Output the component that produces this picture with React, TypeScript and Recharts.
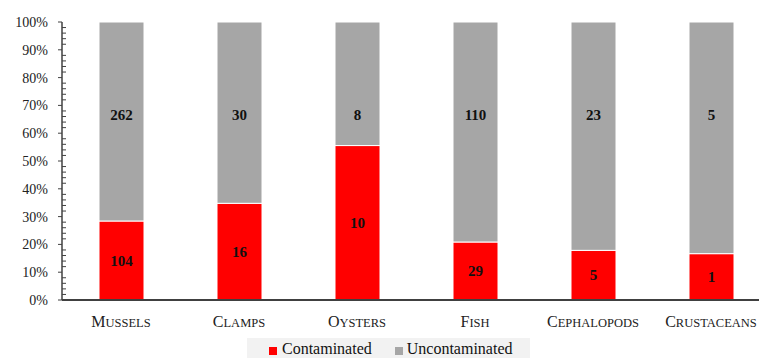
import React from 'react';
import { BarChart, Bar, XAxis, YAxis, CartesianGrid, Legend, LabelList } from 'recharts';

const categories = ['Mussels', 'Clamps', 'Oysters', 'Fish', 'Cephalopods', 'Crustaceans'];
const contaminated = [104, 16, 10, 29, 5, 1];
const uncontaminated = [262, 30, 8, 110, 23, 5];
const majorTicks = [0, 0.1, 0.2, 0.3, 0.4, 0.5, 0.6, 0.7, 0.8, 0.9, 1];
const minorTicks = Array.from({ length: 51 }, (_, i) => i / 50);

const data = categories.map((name, i) => ({
  name,
  contaminated: contaminated[i],
  uncontaminated: uncontaminated[i],
}));

const FONT = "'Liberation Serif', serif";
const RED = '#ff0000';
const GRAY = '#a6a6a6';
const AXIS = '#404040';

const CenterLabel = (props: any) => {
  const { x, y, width, height, value } = props;
  return (
    <text x={x + width / 2} y={y + height / 2} textAnchor="middle" dominantBaseline="central"
      style={{ fontFamily: FONT }} fontSize={15} fontWeight="bold" fill="#111">{value}</text>
  );
};

const TopLabel = (props: any) => {
  const { x, y, width, value } = props;
  return (
    <text x={x + width / 2} y={y + 93} textAnchor="middle" dominantBaseline="central"
      style={{ fontFamily: FONT }} fontSize={15} fontWeight="bold" fill="#111">{value}</text>
  );
};

const CatTick = (props: any) => {
  const { x, y, payload } = props;
  const s = String(payload.value);
  return (
    <text x={x} y={y} dy="0.71em" textAnchor="middle" style={{ fontFamily: FONT }} fill="#222">
      <tspan fontSize={16}>{s.charAt(0).toUpperCase()}</tspan>
      <tspan fontSize={12.5}>{s.slice(1).toUpperCase()}</tspan>
    </text>
  );
};

const isMajor = (v: number) => Math.round(v * 100) % 10 === 0;

const YTick = (props: any) => {
  const { x, y, payload } = props;
  const axisX = x + 14;
  if (!isMajor(payload.value)) {
    return <line x1={axisX} x2={axisX + 4} y1={y} y2={y} stroke={AXIS} strokeWidth={1} />;
  }
  return (
    <g>
      <line x1={axisX - 4} x2={axisX} y1={y} y2={y} stroke={AXIS} strokeWidth={1} />
      <text x={x} y={y} dy="0.355em" textAnchor="end" style={{ fontFamily: FONT }} fontSize={14} fill="#222">
        {`${Math.round(payload.value * 100)}%`}
      </text>
    </g>
  );
};

const LegendContent = () => (
  <div style={{ width: 283, height: 22, background: '#f2f2f2', display: 'flex', alignItems: 'center',
    fontFamily: FONT, fontSize: 16, color: '#111', boxSizing: 'border-box', paddingLeft: 22, whiteSpace: 'nowrap' }}>
    <span style={{ display: 'inline-block', width: 8, height: 8, background: RED, marginRight: 5, marginTop: 4 }} />
    <span style={{ fontFamily: FONT }}>Contaminated</span>
    <span style={{ display: 'inline-block', width: 8, height: 8, background: GRAY, marginLeft: 23, marginRight: 4, marginTop: 4 }} />
    <span style={{ fontFamily: FONT }}>Uncontaminated</span>
  </div>
);

const gridGen = (args: any) => {
  const yAxis = args && args.yAxis;
  if (yAxis && typeof yAxis.scale === 'function') {
    return majorTicks.map((v) => yAxis.scale(v));
  }
  return [];
};

export default function App() {
  return (
    <div style={{ position: 'absolute', left: 0, top: 0, width: 759, height: 358, overflow: 'hidden', background: '#fff', fontFamily: FONT }}>
      <BarChart width={776} height={358} data={data} stackOffset="expand" barSize={45}
        margin={{ top: 22, right: 6, left: 0, bottom: 28 }}>
        <CartesianGrid vertical={false} stroke="#c4c4c4" strokeWidth={1.5} horizontalCoordinatesGenerator={gridGen} />
        <XAxis dataKey="name" tick={<CatTick />} tickLine={false} tickSize={0} tickMargin={16} height={30}
          axisLine={{ stroke: AXIS, strokeWidth: 2 }} interval={0} />
        <YAxis width={62} domain={[0, 1]} ticks={minorTicks} interval={0} tick={<YTick />} tickSize={4} tickMargin={10}
          tickLine={false} axisLine={{ stroke: AXIS, strokeWidth: 1.5 }} />
        <Legend layout="horizontal" verticalAlign="middle" align="center" content={<LegendContent />}
          wrapperStyle={{ left: 247, top: 338, width: 283, height: 22 }} />
        <Bar dataKey="contaminated" name="Contaminated" stackId="a" fill={RED} stroke="#ffffff" strokeWidth={1} isAnimationActive={false}>
          <LabelList dataKey="contaminated" content={<CenterLabel />} />
        </Bar>
        <Bar dataKey="uncontaminated" name="Uncontaminated" stackId="a" fill={GRAY} stroke="#ffffff" strokeWidth={1} isAnimationActive={false}>
          <LabelList dataKey="uncontaminated" content={<TopLabel />} />
        </Bar>
      </BarChart>
    </div>
  );
}
